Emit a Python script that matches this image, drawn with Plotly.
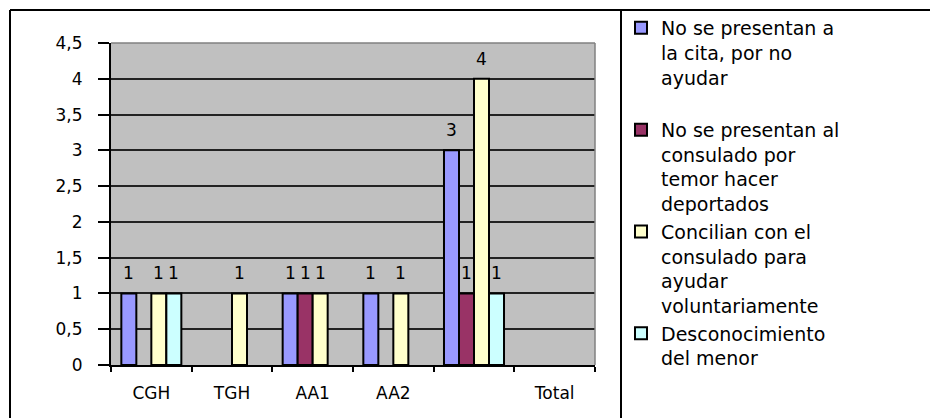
import plotly.graph_objects as go

categories = ["CGH", "TGH", "AA1", "AA2", " ", "Total"]
series_names = [
    "No se presentan a<br>la cita, por no<br>ayudar<br> ",
    "No se presentan al<br>consulado por<br>temor hacer<br>deportados",
    "Concilian con el<br>consulado para<br>ayudar<br>voluntariamente",
    "Desconocimiento<br>del menor",
]
s1 = [1, None, 1, 1, 3, None]
s2 = [None, None, 1, None, 1, None]
s3 = [1, 1, 1, 1, 4, None]
s4 = [1, None, None, None, 1, None]
colors = ["#9999FF", "#993366", "#FFFFCC", "#CCFFFF"]
y_ticks = [0, 0.5, 1, 1.5, 2, 2.5, 3, 3.5, 4, 4.5]

FONT = "DejaVu Sans"
OFF = 8  # page body margin
FIG_W, FIG_H = 938 - OFF, 418 - OFF
BARGAP = 0.256

# plot area in page pixels
L, R, T, B = 111, 595, 43, 365
W, H = R - L, B - T

def px(x):
    return (x - L) / W

def py(y):
    return (B - y) / H

series = [s1, s2, s3, s4]
fig = go.Figure()
for name, vals, col in zip(series_names, series, colors):
    fig.add_trace(go.Bar(
        x=categories, y=vals, name=name,
        marker=dict(color=col, line=dict(color="black", width=2)),
        cliponaxis=False,
    ))

# data labels
cat_w = W / len(categories)
slot = cat_w * (1 - BARGAP) / len(series)
annotations = []
for i, vals in enumerate(series):
    for c, v in zip(categories, vals):
        if v is None:
            continue
        annotations.append(dict(
            x=c, y=v, xref="x", yref="y", text=str(v), showarrow=False,
            xshift=(i - (len(series) - 1) / 2) * slot, yshift=8,
            yanchor="bottom", xanchor="center",
            font=dict(family=FONT, size=17, color="black"),
        ))

shapes = [
    dict(type="line", xref="paper", yref="paper", x0=0, x1=1, y0=1, y1=1,
         line=dict(color="#808080", width=1.5)),
    dict(type="line", xref="paper", yref="paper", x0=1, x1=1, y0=0, y1=1,
         line=dict(color="#808080", width=1.5)),
    dict(type="line", xref="paper", yref="paper", x0=px(10), x1=px(945), y0=py(10), y1=py(10),
         line=dict(color="black", width=2)),
    dict(type="line", xref="paper", yref="paper", x0=px(10), x1=px(10), y0=py(10), y1=py(440),
         line=dict(color="black", width=2)),
    dict(type="line", xref="paper", yref="paper", x0=px(621), x1=px(621), y0=py(10), y1=py(440),
         line=dict(color="black", width=2)),
]

fig.update_layout(
    width=FIG_W, height=FIG_H,
    margin=dict(l=L - OFF, r=938 - R, t=T - OFF, b=418 - B, autoexpand=False),
    paper_bgcolor="white",
    plot_bgcolor="#C0C0C0",
    separators=",.",
    barmode="group",
    bargap=BARGAP,
    bargroupgap=0,
    font=dict(family=FONT, size=17, color="black"),
    showlegend=True,
    legend=dict(
        xref="container", yref="container",
        x=(621 - OFF) / FIG_W, y=1 - (9 - OFF) / FIG_H, xanchor="left", yanchor="top",
        font=dict(family=FONT, size=19, color="black"),
        valign="top", tracegroupgap=5, bgcolor="rgba(0,0,0,0)",
        maxheight=405,
    ),
    shapes=shapes,
    annotations=annotations,
    xaxis=dict(
        type="category", categoryorder="array", categoryarray=categories,
        showline=True, linecolor="black", linewidth=2,
        ticks="outside", tickson="boundaries", ticklen=5, tickcolor="black", tickwidth=2,
        tickfont=dict(family=FONT, size=17, color="black"),
        ticklabelstandoff=12,
        showgrid=False, zeroline=False, fixedrange=True,
    ),
    yaxis=dict(
        range=[0, 4.5], tickvals=y_ticks,
        showline=True, linecolor="black", linewidth=2,
        ticks="outside", ticklen=11, tickcolor="black", tickwidth=2,
        tickfont=dict(family=FONT, size=17, color="black"),
        ticklabelstandoff=12,
        showgrid=True, gridcolor="#222222", gridwidth=1.8,
        zeroline=False, fixedrange=True,
    ),
)

fig.write_html("out.html", config={"displayModeBar": False})
